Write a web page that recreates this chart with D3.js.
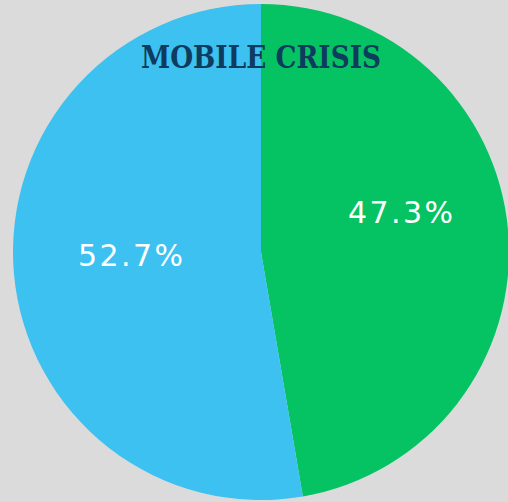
<!DOCTYPE html>
<html>
<head>
<meta charset="utf-8">
<script src="https://cdn.jsdelivr.net/npm/d3@7"></script>
<style>
  html, body { margin: 0; padding: 0; background: #dbdbdb; }
  svg { display: block; }
</style>
</head>
<body>
<div id="chart"></div>
<script>
const categories = ['Green', 'Blue'];
const shares = [47.3, 52.7];
const labels = ['47.3%', '52.7%'];
const title = 'MOBILE CRISIS';

const colors = {
    green: '#05c363',
    blue: '#3cc1f1',
    navy: '#0d3c5e',
    bg: '#dbdbdb'
};

const width = 508, height = 502;
const cx = 261, cy = 252, radius = 248;

const svg = d3.select('#chart')
    .append('svg')
    .attr('width', width)
    .attr('height', height);

svg.append('rect')
    .attr('width', width)
    .attr('height', height)
    .attr('fill', colors.bg);

const g = svg.append('g')
    .attr('transform', `translate(${cx}, ${cy})`);

const pie = d3.pie().sort(null).value(d => d);
const arcs = pie(shares);

const arc = d3.arc().innerRadius(0).outerRadius(radius);
const labelArc = d3.arc().innerRadius(135).outerRadius(135);

const fill = d3.scaleOrdinal()
    .domain(categories)
    .range([colors.green, colors.blue]);

g.selectAll('path.slice')
    .data(arcs)
    .enter()
    .append('path')
    .classed('slice', true)
    .attr('d', arc)
    .attr('fill', (d, i) => fill(categories[i]));

// labels sit a bit off the centroid in the original
const labelShift = [[5, -28], [4, -8]];

g.selectAll('text.pct')
    .data(arcs)
    .enter()
    .append('text')
    .classed('pct', true)
    .attr('transform', (d, i) => {
        const c = labelArc.centroid(d);
        return `translate(${c[0] + labelShift[i][0]}, ${c[1] + labelShift[i][1]})`;
    })
    .attr('dy', '0.35em')
    .attr('textLength', 105)
    .attr('lengthAdjust', 'spacing')
    .style('text-anchor', 'middle')
    .style('font-family', '"DejaVu Sans", sans-serif')
    .style('font-weight', '400')
    .style('font-size', '30px')
    .attr('fill', '#ffffff')
    .text((d, i) => labels[i]);

svg.append('text')
    .attr('x', cx)
    .attr('y', 68)
    .attr('textLength', 240)
    .attr('lengthAdjust', 'spacingAndGlyphs')
    .style('text-anchor', 'middle')
    .style('font-family', '"DejaVu Serif", serif')
    .style('font-weight', 'bold')
    .style('font-size', '31px')
    .attr('fill', colors.navy)
    .text(title);
</script>
</body>
</html>
